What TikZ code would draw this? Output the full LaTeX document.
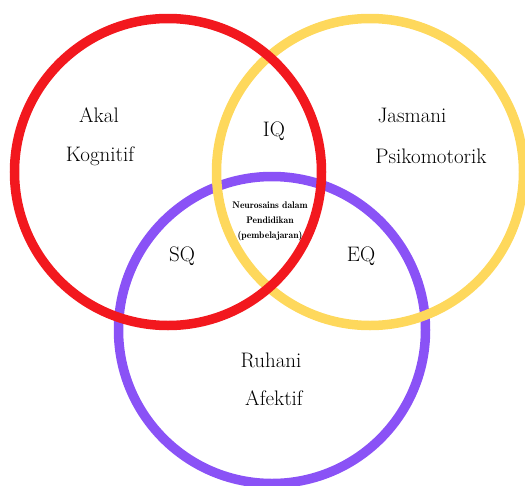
\documentclass[tikz,border=0pt]{standalone}
\definecolor{ringred}{RGB}{242,24,30}
\definecolor{ringyellow}{RGB}{254,216,92}
\definecolor{ringpurple}{RGB}{138,82,246}
\begin{document}
\begin{tikzpicture}[x=1pt,y=-1pt,
  ring/.style={line width=9.5pt},
  big/.style={font=\fontsize{21}{24}\selectfont},
  small/.style={font=\fontsize{9.6}{15}\fontseries{b}\selectfont}]
\useasboundingbox (0,0) rectangle (525,485);
\clip (0,0) rectangle (525,485);
% circles: purple at the bottom, red on top
\coordinate (akal) at (168,172);
\coordinate (jasmani) at (370,172);
\coordinate (ruhani) at (272,330);
\draw[ring,ringpurple] (ruhani) circle (153.5);
\draw[ring,ringyellow] (jasmani) circle (153.5);
\draw[ring,ringred] (akal) circle (153.5);
   \node [big] (a1) at (99,115) {Akal};
   \node [big] (a2) at (100,156) {Kognitif};
   \node [big] (j1) at (412,115) {Jasmani};
   \node [big] (j2) at (431,156) {Psikomotorik};
   \node [big] (iq) at (274,131) {IQ};
   \node [big] (sq) at (182,256) {SQ};
   \node [big] (eq) at (361,256) {EQ};
   \node [big] (r1) at (271,360) {Ruhani};
   \node [big] (r2) at (274,398) {Afektif};
   \node [small,align=center] (pusat) at (270,221) {Neurosains dalam\\Pendidikan\\(pembelajaran)};
\end{tikzpicture}
\end{document}
